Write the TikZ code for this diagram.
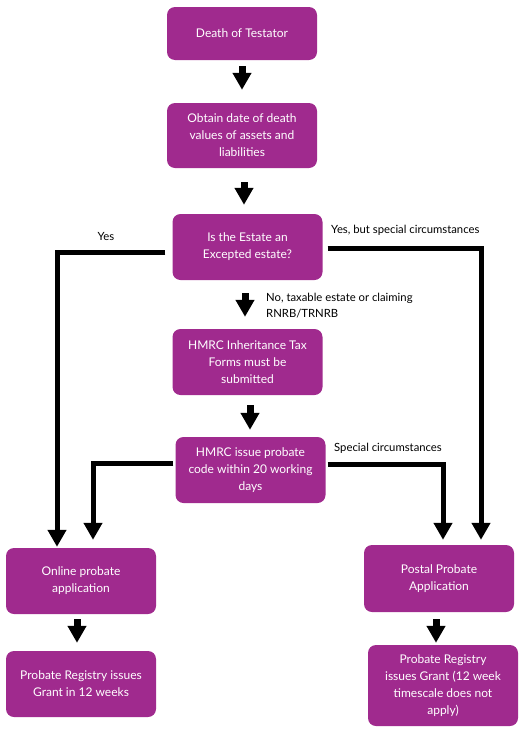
\documentclass[tikz,border=0pt]{standalone}
\usepackage{fontspec}
\setmainfont{Lato}
\usetikzlibrary{arrows.meta,calc}
\definecolor{pp}{HTML}{A02A8E}
\begin{document}
\begin{tikzpicture}[x=1pt,y=-1pt,
 box/.style={fill=pp, rounded corners=8pt, text=white, align=center, font=\fontsize{12}{17}\selectfont, inner sep=0pt, minimum width=150pt},
 blk/.style={line width=7pt, -{Triangle[width=18pt,length=17pt]}},
 conn/.style={line width=5pt, -{Triangle[width=18pt,length=17pt]}},
 lab/.style={font=\fontsize{11.3}{16}\selectfont, align=left, inner sep=0pt, anchor=west}]
\useasboundingbox (0,0) rectangle (525,734);
\node[box, minimum height=53pt] (b1) at (242,33.5) {Death of Testator};
\node[box, minimum height=65pt] (b2) at (242,135.5) {Obtain date of death\\values of assets and\\liabilities};
\node[box, minimum height=66pt] (b3) at (247.5,247) {Is the Estate an\\Excepted estate?};
\node[box, minimum height=66pt] (b4) at (247.5,362) {HMRC Inheritance Tax\\Forms must be\\submitted};
\node[box, minimum height=66pt] (b5) at (250.5,470) {HMRC issue probate\\code within 20 working\\days};
\node[box, minimum height=66pt] (b6) at (81,581) {Online probate\\application};
\node[box, minimum height=67pt] (b7) at (439,578.5) {Postal Probate\\Application};
\node[box, minimum height=66pt] (b8) at (81,684) {Probate Registry issues\\Grant in 12 weeks};
\node[box, minimum height=81pt] (b9) at (443,685.5) {Probate Registry\\issues Grant (12 week\\timescale does not\\apply)};

\draw[blk] ($(b1.south)+(0,6)$) -- ($(b2.north)+(0,-13)$);
\draw[blk] ($(b2.south)+(2,14)$) -- ($(b3.north)+(-3.5,-9)$);
\draw[blk] ($(b3.south)+(-2.5,13)$) -- ($(b4.north)+(-2.5,-12)$);
\draw[blk] ($(b4.south)+(2.5,10)$) -- ($(b5.north)+(-0.5,-7)$);
\draw[blk] ($(b6.south)+(-4,5)$) -- ($(b8.north)+(-4,-8)$);
\draw[blk] ($(b7.south)+(-3,7)$) -- ($(b9.north)+(-7,-2)$);

\draw[conn, shorten <=7pt, shorten >=1pt] ($(b3.west)+(0,5)$) -| ($(b6.north)+(-24,0)$);
\draw[conn, shorten <=5pt, shorten >=5pt] ($(b3.east)+(0,1)$) -| ($(b7.north)+(42,0)$);
\draw[conn, shorten <=2pt, shorten >=8pt] ($(b5.west)+(0,-7)$) -| ($(b6.north)+(12,0)$);
\draw[conn, shorten <=2pt, shorten >=5pt] ($(b5.east)+(0,-6)$) -| ($(b7.north)+(4,0)$);

\node[lab, anchor=center] (l1) at (106,236) {Yes};
\node[lab] (l2) at (331,230) {Yes, but special circumstances};
\node[lab] (l3) at (266,306) {No, taxable estate or claiming\\RNRB/TRNRB};
\node[lab] (l4) at (334,448) {Special circumstances};
\end{tikzpicture}
\end{document}
